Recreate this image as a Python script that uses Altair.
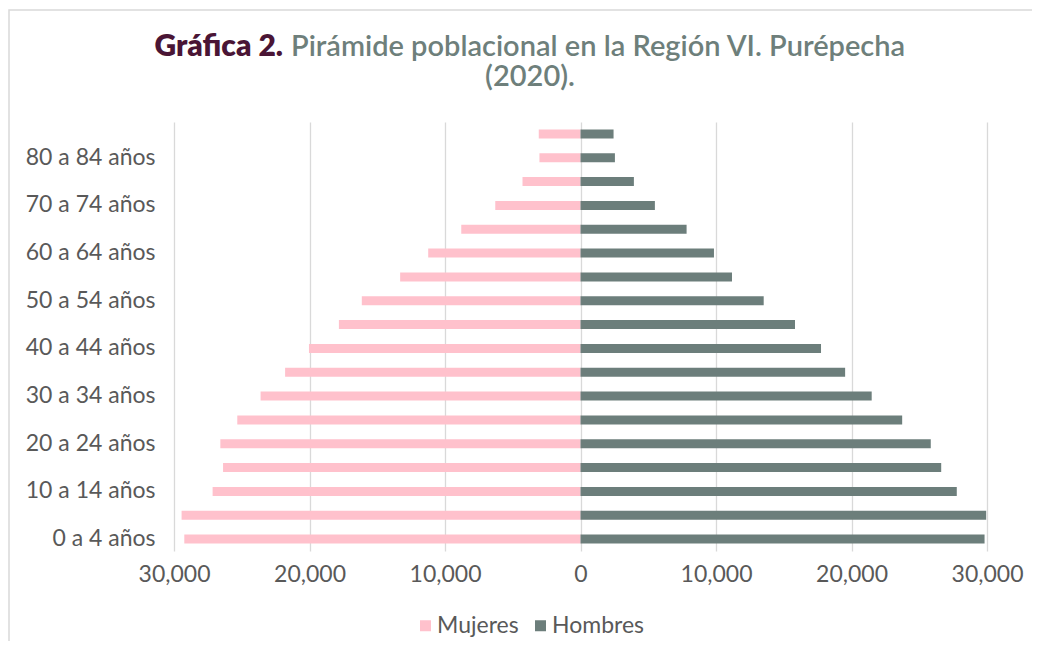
import altair as alt
import pandas as pd

cats = ["0 a 4 años", "5 a 9 años", "10 a 14 años", "15 a 19 años", "20 a 24 años",
        "25 a 29 años", "30 a 34 años", "35 a 39 años", "40 a 44 años", "45 a 49 años",
        "50 a 54 años", "55 a 59 años", "60 a 64 años", "65 a 69 años", "70 a 74 años",
        "75 a 79 años", "80 a 84 años", "85 años y más"]
mujeres = [29240, 29440, 27150, 26380, 26580, 25330, 23610, 21800, 20040, 17830,
           16140, 13310, 11240, 8800, 6290, 4280, 3030, 3080]
hombres = [29820, 29940, 27770, 26620, 25850, 23740, 21490, 19530, 17750, 15830,
           13520, 11180, 9850, 7830, 5490, 3940, 2540, 2440]
tick_vals = [-30000, -20000, -10000, 0, 10000, 20000, 30000]
series = ["Mujeres", "Hombres"]

PINK = "#FFC1CC"
GREY = "#6C7E7B"
TXT = "#595959"
FONT = "Lato"

rows = []
for c, m, h in zip(cats, mujeres, hombres):
    rows.append({"edad": c, "sexo": "Mujeres", "valor": -m})
    rows.append({"edad": c, "sexo": "Hombres", "valor": h})
df = pd.DataFrame(rows)

W, H = 813, 429

bars = alt.Chart(df).mark_bar().encode(
    x=alt.X("valor:Q",
            scale=alt.Scale(domain=[-30000, 30000], nice=False),
            axis=alt.Axis(values=tick_vals, labelExpr="format(abs(datum.value), ',')",
                          title=None, domain=False, ticks=False, grid=True,
                          gridColor="#D9D9D9", gridWidth=1.3, labelFontSize=23,
                          labelColor=TXT, labelPadding=12, labelFont=FONT,
                          labelFlush=False, labelOverlap=False)),
    y=alt.Y("edad:N", sort=cats[::-1],
            scale=alt.Scale(paddingInner=0.62, paddingOuter=0.31),
            axis=alt.Axis(values=cats[0:17:2], title=None, ticks=False, domain=False,
                          labelPadding=19, labelFontSize=23, labelColor=TXT,
                          labelFont=FONT, grid=False)),
    color=alt.Color("sexo:N",
                    scale=alt.Scale(domain=series, range=[PINK, GREY]),
                    sort=series,
                    legend=alt.Legend(orient="none", legendX=240, legendY=492,
                                      direction="horizontal", symbolType="square",
                                      symbolSize=121, symbolStrokeWidth=0,
                                      labelFontSize=23, labelColor=TXT, labelFont=FONT,
                                      title=None, columnPadding=10, labelOffset=0)),
)

title_df = pd.DataFrame({"t": ["x"]})
t1 = alt.Chart(title_df).mark_text(align="right", baseline="alphabetic", fontSize=30,
                                   fontWeight=800, font=FONT, color="#4A1535").encode(
    x=alt.value(109), y=alt.value(-66), text=alt.value("Gráfica 2."))
t2 = alt.Chart(title_df).mark_text(align="left", baseline="alphabetic", fontSize=29,
                                   fontWeight=600, font=FONT, color="#6E7F7B").encode(
    x=alt.value(117), y=alt.value(-66),
    text=alt.value("Pirámide poblacional en la Región VI. Purépecha"))
t3 = alt.Chart(title_df).mark_text(align="center", baseline="alphabetic", fontSize=29,
                                   fontWeight=600, font=FONT, color="#6E7F7B").encode(
    x=alt.value(356), y=alt.value(-36), text=alt.value("(2020)."))

frame = alt.Chart(title_df).mark_rect(fill="transparent", stroke="#D9D9D9",
                                      strokeWidth=1.5).encode(
    x=alt.value(-165), x2=alt.value(1000), y=alt.value(-112), y2=alt.value(700))

chart = alt.layer(frame, bars, t1, t2, t3).properties(
    width=W, height=H, autosize="none",
    padding={"left": 166, "top": 114, "right": 45, "bottom": 90},
).configure(font=FONT).configure_view(stroke=None)

chart.save("out.html", embed_options={"renderer": "svg", "actions": False})
